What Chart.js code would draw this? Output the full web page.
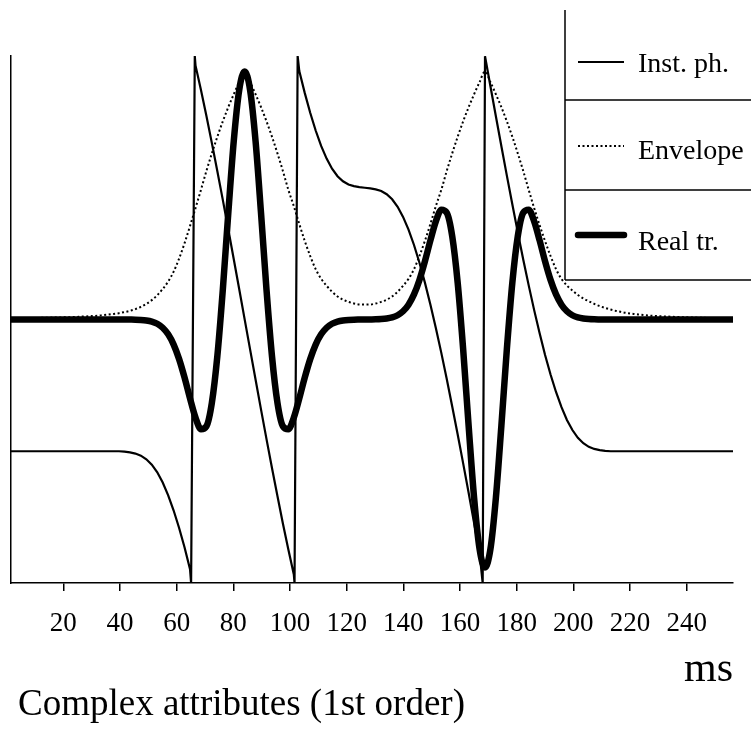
<!DOCTYPE html>
<html>
<head>
<meta charset="utf-8">
<script src="https://cdn.jsdelivr.net/npm/chart.js@4.4.1/dist/chart.umd.min.js"></script>
<style>
html,body{margin:0;padding:0;background:#fff;}
#wrap{width:751px;height:729px;}
canvas{display:block;}
</style>
</head>
<body>
<div id="wrap"><canvas id="c" width="751" height="729"></canvas></div>
<script>
// ---- data ----
const timeMs = [1.11, 3.04, 4.96, 6.89, 8.82, 10.75, 12.68, 14.60, 16.53, 18.46, 20.39, 22.31, 24.24, 26.17, 28.10, 30.02, 31.95, 33.88, 35.81, 37.74, 39.66, 41.59, 43.52, 45.45, 47.37, 49.30, 51.23, 53.16, 55.08, 57.01, 58.94, 60.87, 62.80, 64.72, 66.65, 68.58, 70.51, 72.43, 74.36, 76.29, 78.22, 80.14, 82.07, 84.00, 85.93, 87.86, 89.78, 91.71, 93.64, 95.57, 97.49, 99.42, 101.35, 103.28, 105.20, 107.13, 109.06, 110.99, 112.92, 114.84, 116.77, 118.70, 120.63, 122.55, 124.48, 126.41, 128.34, 130.26, 132.19, 134.12, 136.05, 137.98, 139.90, 141.83, 143.76, 145.69, 147.61, 149.54, 151.47, 153.40, 155.32, 157.25, 159.18, 161.11, 163.04, 164.96, 166.89, 168.82, 170.75, 172.67, 174.60, 176.53, 178.46, 180.39, 182.31, 184.24, 186.17, 188.10, 190.02, 191.95, 193.88, 195.81, 197.73, 199.66, 201.59, 203.52, 205.45, 207.37, 209.30, 211.23, 213.16, 215.08, 217.01, 218.94, 220.87, 222.79, 224.72, 226.65, 228.58, 230.51, 232.43, 234.36, 236.29, 238.22, 240.14, 242.07, 244.00, 245.93, 247.85, 249.78, 251.71, 253.64, 255.57, 257.49];

const realTrace = [0, 0, 0, 0, 0, 0, 0, 0, 0, 0, 0, 0, 0, 0, 0, 0, 0, 0, 0, 0, 0,
  0,
  -0.0003, -0.0007, -0.0017, -0.0039, -0.0084, -0.0172, -0.0332, -0.0598, -0.1011, -0.1597, -0.2346, -0.3185, -0.3957, -0.4424, -0.4304, -0.3355, -0.1476, 0.1200, 0.4282, 0.7178, 0.9248,
  1.0,
  0.9248, 0.7178, 0.4282, 0.1200, -0.1476, -0.3355, -0.4304, -0.4424, -0.3957, -0.3185, -0.2346, -0.1597, -0.1011, -0.0598, -0.0332, -0.0172, -0.0084, -0.0039, -0.0017, -0.0007, -0.0003,
  0,
  0.0003, 0.0007, 0.0017, 0.0039, 0.0084, 0.0172, 0.0332, 0.0598, 0.1011, 0.1597, 0.2346, 0.3185, 0.3957, 0.4424, 0.4304, 0.3355, 0.1476, -0.1200, -0.4282, -0.7178, -0.9248,
  -1.0,
  -0.9248, -0.7178, -0.4282, -0.1200, 0.1476, 0.3355, 0.4304, 0.4424, 0.3957, 0.3185, 0.2346, 0.1597, 0.1011, 0.0598, 0.0332, 0.0172, 0.0084, 0.0039, 0.0017, 0.0007, 0.0003,
  0, 0, 0, 0, 0, 0, 0, 0, 0, 0, 0, 0, 0, 0, 0, 0, 0, 0, 0, 0, 0, 0, 0, 0, 0];

const envelope = [0.0048, 0.0050, 0.0052, 0.0056, 0.0060, 0.0064, 0.0067, 0.0072, 0.0077, 0.0083, 0.0089, 0.0095, 0.0101, 0.0114, 0.0126, 0.0138, 0.0150, 0.0173, 0.0198, 0.0225, 0.0255, 0.0300, 0.0350, 0.0420, 0.0510, 0.0630, 0.0780, 0.0980, 0.1230, 0.1530, 0.1930, 0.2460, 0.3080, 0.3770, 0.4490, 0.5230, 0.5990, 0.6700, 0.7370, 0.7990, 0.8560, 0.9080, 0.9570,
  1.0,
  0.957, 0.908, 0.856, 0.799, 0.737, 0.670, 0.599, 0.523, 0.457, 0.385, 0.317, 0.256, 0.203, 0.164, 0.136, 0.112, 0.093, 0.080, 0.071, 0.0645, 0.0605, 0.060, 0.0605, 0.0645, 0.071, 0.080, 0.093, 0.112, 0.136, 0.164, 0.203, 0.256, 0.317, 0.385, 0.457, 0.523, 0.599, 0.670, 0.737, 0.799, 0.856, 0.908, 0.957,
  1.0,
  0.957, 0.908, 0.856, 0.799, 0.737, 0.670, 0.599, 0.523, 0.449, 0.380, 0.316, 0.256, 0.203, 0.164, 0.137, 0.117, 0.099, 0.085, 0.0735, 0.063, 0.054, 0.0466, 0.040, 0.0345, 0.030, 0.0258, 0.023, 0.0203, 0.018, 0.016, 0.0142, 0.0132, 0.0124, 0.0115, 0.0103, 0.0093, 0.0086, 0.008, 0.0074, 0.0067, 0.0061, 0.0059, 0.0057, 0.0055, 0.0053, 0.0051];

const phaseTimes = [1.11, 3.04, 4.96, 6.89, 8.82, 10.75, 12.68, 14.60, 16.53, 18.46, 20.39, 22.31, 24.24, 26.17, 28.10, 30.02, 31.95, 33.88, 35.81, 37.74, 39.66, 41.59, 43.52, 45.45, 47.37, 49.30, 51.23, 53.16, 55.08, 57.01, 58.94, 60.87, 62.80, 64.72,
  65.10, 66.40,
  66.65, 68.58, 70.51, 72.43, 74.36, 76.29, 78.22, 80.14, 82.07, 84.00, 85.93, 87.86, 89.78, 91.71, 93.64, 95.57, 97.49, 99.42, 101.35,
  101.60, 102.70,
  103.28, 105.20, 107.13, 109.06, 110.99, 112.92, 114.84, 116.77, 118.70, 120.63, 122.55, 124.48, 126.41, 128.34, 130.26, 132.19, 134.12, 136.05, 137.98, 139.90, 141.83, 143.76, 145.69, 147.61, 149.54, 151.47, 153.40, 155.32, 157.25, 159.18, 161.11, 163.04, 164.96, 166.89,
  168.00,
  168.82, 170.75, 172.67, 174.60, 176.53, 178.46, 180.39, 182.31, 184.24, 186.17, 188.10, 190.02, 191.95, 193.88, 195.81, 197.73, 199.66, 201.59, 203.52, 205.45, 207.37, 209.30, 211.23, 213.16, 215.08, 217.01, 218.94, 220.87, 222.79, 224.72, 226.65, 228.58, 230.51, 232.43, 234.36, 236.29, 238.22, 240.14, 242.07, 244.00, 245.93, 247.85, 249.78, 251.71, 253.64, 255.57, 257.49];

const phaseDegrees = [-90, -90, -90, -90, -90, -90, -90, -90, -90, -90, -90, -90, -90, -90, -90, -90, -90, -90, -90, -90, -90,
  -90.3, -90.8, -91.6, -93.0, -95.5, -99.2, -104.4, -111.4, -120.1, -130.5, -142.4, -155.8, -170.6,
  -180, 180,
  173.6, 156.7, 139.0, 120.5, 101.3, 81.7, 61.7, 41.3, 20.8, 0.1, -20.6, -41.2, -61.6, -81.7, -101.4, -120.6, -139.3, -157.1, -174.2,
  -180, 180,
  169.7, 154.8, 141.2, 129.1, 118.6, 109.9, 103.0, 97.9, 94.4, 92.2, 91.1, 90.4, 90.0, 89.6, 88.9, 87.8, 85.6, 82.1, 77.0, 70.1, 61.4, 50.9, 38.8, 25.2, 10.3, -5.8, -22.8, -40.7, -59.4, -78.6, -98.3, -118.4, -138.8, -159.4,
  -180,
  179.9, 159.2, 138.7, 118.3, 98.3, 78.7, 59.5, 41.0, 23.3, 6.4, -9.4, -24.2, -37.6, -49.5, -59.9, -68.6, -75.5, -80.8, -84.5, -87.0, -88.4, -89.2, -89.7,
  -90, -90, -90, -90, -90, -90, -90, -90, -90, -90, -90, -90, -90, -90, -90, -90, -90, -90, -90, -90, -90, -90, -90, -90];

const xTickValues = [20, 40, 60, 80, 100, 120, 140, 160, 180, 200, 220, 240];
const seriesNames = ['Inst. ph.', 'Envelope', 'Real tr.'];
const chartTitle = 'Complex attributes (1st order)';
const xAxisTitle = 'ms';

// ---- styling / layout ----
const FONT = 'Liberation Serif';
const toPoints = (xs, ys) => xs.map((x, i) => ({ x: x, y: ys[i] }));

const whiteBg = {
  id: 'whiteBg',
  beforeDraw(chart) {
    const c = chart.ctx;
    c.save();
    c.fillStyle = '#fff';
    c.fillRect(0, 0, chart.width, chart.height);
    c.restore();
  }
};

const titleShift = {
  id: 'titleShift',
  afterLayout(chart) {
    if (chart.titleBlock) { chart.titleBlock.left += 7; }
  }
};

const LEG = { left: 565, top: 10, rows: [100, 190, 280], sx0: 578, sx1: 624, sampleY: [62, 146, 235], textX: 638, baseY: [72, 159, 250] };
const boxLegend = {
  id: 'boxLegend',
  afterDraw(chart) {
    const c = chart.ctx;
    c.save();
    c.strokeStyle = '#000';
    c.lineWidth = 1.5;
    c.setLineDash([]);
    c.beginPath();
    c.moveTo(LEG.left, LEG.top);
    c.lineTo(LEG.left, LEG.rows[2]);
    LEG.rows.forEach(y => { c.moveTo(LEG.left, y); c.lineTo(chart.width, y); });
    c.stroke();
    chart.data.datasets.forEach((ds, i) => {
      c.save();
      c.strokeStyle = ds.borderColor;
      c.lineWidth = ds.borderWidth;
      c.lineCap = ds.borderCapStyle || 'butt';
      c.setLineDash(ds.borderDash || []);
      c.beginPath();
      c.moveTo(LEG.sx0, LEG.sampleY[i]);
      c.lineTo(LEG.sx1, LEG.sampleY[i]);
      c.stroke();
      c.restore();
      c.fillStyle = '#000';
      c.font = '28px "' + FONT + '"';
      c.textBaseline = 'alphabetic';
      c.textAlign = 'left';
      c.fillText(ds.label, LEG.textX, LEG.baseY[i]);
    });
    c.restore();
  }
};

new Chart(document.getElementById('c'), {
  type: 'line',
  data: {
    datasets: [
      { label: seriesNames[0], data: toPoints(phaseTimes, phaseDegrees), yAxisID: 'yPhase',
        borderColor: '#000', borderWidth: 2.2, pointRadius: 0, tension: 0, fill: false },
      { label: seriesNames[1], data: toPoints(timeMs, envelope), yAxisID: 'yAmp',
        borderColor: '#000', borderWidth: 2, borderDash: [2, 2.5], pointRadius: 0,
        cubicInterpolationMode: 'monotone', fill: false },
      { label: seriesNames[2], data: toPoints(timeMs, realTrace), yAxisID: 'yAmp',
        borderColor: '#000', borderWidth: 6.5, pointRadius: 0, cubicInterpolationMode: 'monotone',
        borderCapStyle: 'round', borderJoinStyle: 'round', fill: false }
    ]
  },
  options: {
    responsive: false,
    devicePixelRatio: 1,
    animation: false,
    events: [],
    layout: { padding: { left: 11, right: 18, top: 56, bottom: 0 } },
    plugins: {
      legend: { display: false },
      tooltip: { enabled: false },
      title: { display: true, text: chartTitle, position: 'bottom', align: 'start', color: '#000',
               font: { family: FONT, size: 37, weight: 'normal' }, padding: { top: 0, bottom: 2 } }
    },
    scales: {
      x: {
        type: 'linear', position: 'bottom', min: 1.54, max: 256.34,
        afterBuildTicks: (s) => { s.ticks = xTickValues.map(v => ({ value: v })); },
        afterFit: (s) => { s.height = 99.6; },
        ticks: { color: '#000', font: { family: FONT, size: 27 }, padding: 17, maxRotation: 0, autoSkip: false,
                 callback: (v) => String(v) },
        grid: { display: true, drawOnChartArea: false, drawTicks: true, tickLength: 8, color: '#000', lineWidth: 1.5 },
        border: { display: true, color: '#000', width: 1.5 },
        title: { display: true, text: xAxisTitle, align: 'end', color: '#000',
                 font: { family: FONT, size: 42, lineHeight: 0.6 }, padding: { top: 0, bottom: 0 } }
      },
      yPhase: {
        type: 'linear', position: 'left', min: -180, max: 180,
        afterFit: (s) => { s.width = 0; },
        ticks: { display: false },
        grid: { display: false },
        border: { display: true, color: '#000', width: 1.5 }
      },
      yAmp: { type: 'linear', display: false, min: -1.0625, max: 1.0625 }
    }
  },
  plugins: [whiteBg, titleShift, boxLegend]
});
</script>
</body>
</html>
